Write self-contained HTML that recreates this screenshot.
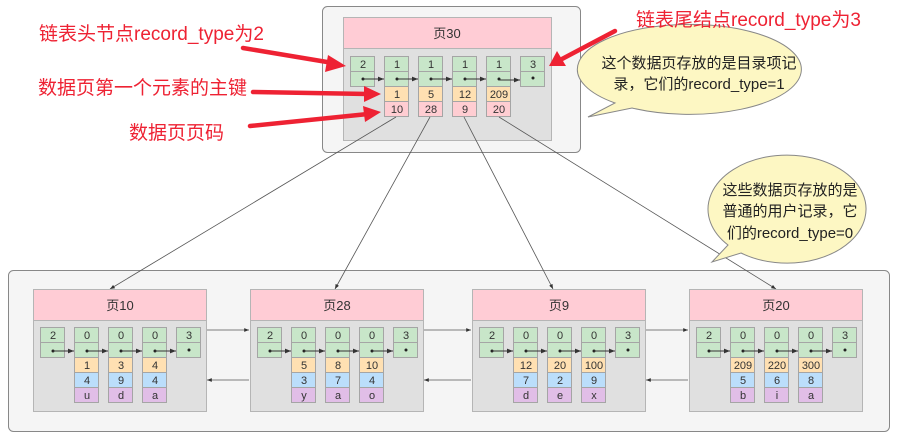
<!DOCTYPE html>
<html><head><meta charset="utf-8">
<style>
html,body{margin:0;padding:0;background:#fff;}
svg{display:block;}
text{font-family:"Liberation Sans","Noto Sans CJK SC",sans-serif;}
.c{font-size:11px;fill:#333;text-anchor:middle;}
.h{font-size:13px;fill:#333;text-anchor:middle;}
.r{font-size:19px;fill:#ee2233;}
.b{font-size:15px;fill:#222;text-anchor:middle;}
.g{fill:#c8e6c9;stroke:#a5a5a5;stroke-width:1;}
.y{fill:#ffe0b2;stroke:#a5a5a5;stroke-width:1;}
.p{fill:#ffcdd2;stroke:#a5a5a5;stroke-width:1;}
.bl{fill:#bbdefb;stroke:#a5a5a5;stroke-width:1;}
.pu{fill:#e1bee7;stroke:#a5a5a5;stroke-width:1;}
.ln{stroke:#333;stroke-width:1;fill:none;}
.gl{stroke:#555;stroke-width:0.8;fill:none;}
</style></head><body>
<svg width="901" height="440" viewBox="0 0 901 440" xmlns="http://www.w3.org/2000/svg">
<defs>
<marker id="a" viewBox="0 0 10 10" refX="10" refY="5" markerWidth="6" markerHeight="6" orient="auto"><path d="M0,1 L10,5 L0,9 z" fill="#333"/></marker>
</defs>
<rect width="901" height="440" fill="#fff"/>

<!-- top container -->
<rect x="322.5" y="6.5" width="258" height="146" rx="5" fill="#f5f5f5" stroke="#888"/>
<rect x="343.5" y="17.5" width="208" height="123" fill="#e0e0e0" stroke="#b5b5b5"/>
<rect x="343.5" y="17.5" width="208" height="31" fill="#ffccd5" stroke="#b5b5b5"/>
<text class="h" x="447" y="38">页30</text>

<g>
<rect class="g" x="350.5" y="56.5" width="24" height="15"/><rect class="g" x="350.5" y="71.5" width="24" height="15"/>
<rect class="g" x="384.5" y="56.5" width="24" height="15"/><rect class="g" x="384.5" y="71.5" width="24" height="15"/>
<rect class="g" x="418.5" y="56.5" width="24" height="15"/><rect class="g" x="418.5" y="71.5" width="24" height="15"/>
<rect class="g" x="452.5" y="56.5" width="24" height="15"/><rect class="g" x="452.5" y="71.5" width="24" height="15"/>
<rect class="g" x="486.5" y="56.5" width="24" height="15"/><rect class="g" x="486.5" y="71.5" width="24" height="15"/>
<rect class="g" x="520.5" y="56.5" width="24" height="15"/><rect class="g" x="520.5" y="71.5" width="24" height="15"/>
<rect class="y" x="384.5" y="86.5" width="24" height="15"/><rect class="p" x="384.5" y="101.5" width="24" height="15"/>
<rect class="y" x="418.5" y="86.5" width="24" height="15"/><rect class="p" x="418.5" y="101.5" width="24" height="15"/>
<rect class="y" x="452.5" y="86.5" width="24" height="15"/><rect class="p" x="452.5" y="101.5" width="24" height="15"/>
<rect class="y" x="486.5" y="86.5" width="24" height="15"/><rect class="p" x="486.5" y="101.5" width="24" height="15"/>
<text class="c" x="363" y="68">2</text><text class="c" x="397" y="68">1</text><text class="c" x="431" y="68">1</text><text class="c" x="465" y="68">1</text><text class="c" x="499" y="68">1</text><text class="c" x="533" y="68">3</text>
<text class="c" x="397" y="98">1</text><text class="c" x="431" y="98">5</text><text class="c" x="465" y="98">12</text><text class="c" x="499" y="98">209</text>
<text class="c" x="397" y="113">10</text><text class="c" x="431" y="113">28</text><text class="c" x="465" y="113">9</text><text class="c" x="499" y="113">20</text>
<circle cx="363" cy="79" r="1.5" fill="#222"/><circle cx="397" cy="79" r="1.5" fill="#222"/><circle cx="431" cy="79" r="1.5" fill="#222"/><circle cx="465" cy="79" r="1.5" fill="#222"/><circle cx="499" cy="79" r="1.5" fill="#222"/><circle cx="533" cy="78" r="1.5" fill="#222"/>
<line class="ln" x1="363" y1="79" x2="384" y2="79" marker-end="url(#a)"/>
<line class="ln" x1="397" y1="79" x2="418" y2="79" marker-end="url(#a)"/>
<line class="ln" x1="431" y1="79" x2="452" y2="79" marker-end="url(#a)"/>
<line class="ln" x1="465" y1="79" x2="486" y2="79" marker-end="url(#a)"/>
<line class="ln" x1="499" y1="80" x2="520" y2="80" marker-end="url(#a)"/>
</g>

<!-- bottom container -->
<rect x="8.5" y="270.5" width="881" height="161" rx="5" fill="#f5f5f5" stroke="#888"/>

<!-- connectors top to bottom -->
<line class="gl" x1="396" y1="117" x2="110" y2="289" marker-end="url(#a)"/>
<line class="gl" x1="430" y1="117" x2="335" y2="289" marker-end="url(#a)"/>
<line class="gl" x1="464" y1="117" x2="553" y2="289" marker-end="url(#a)"/>
<line class="gl" x1="499" y1="117" x2="776" y2="289" marker-end="url(#a)"/>

<!-- page arrows -->
<line class="gl" x1="207" y1="330" x2="249" y2="330" marker-end="url(#a)"/>
<line class="gl" x1="249" y1="380" x2="207" y2="380" marker-end="url(#a)"/>
<line class="gl" x1="424" y1="330" x2="471" y2="330" marker-end="url(#a)"/>
<line class="gl" x1="471" y1="380" x2="424" y2="380" marker-end="url(#a)"/>
<line class="gl" x1="646" y1="330" x2="688" y2="330" marker-end="url(#a)"/>
<line class="gl" x1="688" y1="380" x2="646" y2="380" marker-end="url(#a)"/>

<g transform="translate(33,0)">
<rect x="0.5" y="289.5" width="173" height="122" fill="#e0e0e0" stroke="#b5b5b5"/>
<rect x="0.5" y="289.5" width="173" height="31" fill="#ffccd5" stroke="#b5b5b5"/>
<text class="h" x="87" y="310">页10</text>
<rect class="g" x="7.5" y="327.5" width="24" height="15"/><rect class="g" x="7.5" y="342.5" width="24" height="15"/>
<rect class="g" x="41.5" y="327.5" width="24" height="15"/><rect class="g" x="41.5" y="342.5" width="24" height="15"/>
<rect class="g" x="75.5" y="327.5" width="24" height="15"/><rect class="g" x="75.5" y="342.5" width="24" height="15"/>
<rect class="g" x="109.5" y="327.5" width="24" height="15"/><rect class="g" x="109.5" y="342.5" width="24" height="15"/>
<rect class="g" x="143.5" y="327.5" width="24" height="15"/><rect class="g" x="143.5" y="342.5" width="24" height="15"/>
<rect class="y" x="41.5" y="357.5" width="24" height="15"/><rect class="bl" x="41.5" y="372.5" width="24" height="15"/><rect class="pu" x="41.5" y="387.5" width="24" height="15"/>
<rect class="y" x="75.5" y="357.5" width="24" height="15"/><rect class="bl" x="75.5" y="372.5" width="24" height="15"/><rect class="pu" x="75.5" y="387.5" width="24" height="15"/>
<rect class="y" x="109.5" y="357.5" width="24" height="15"/><rect class="bl" x="109.5" y="372.5" width="24" height="15"/><rect class="pu" x="109.5" y="387.5" width="24" height="15"/>
<text class="c" x="20" y="339">2</text><text class="c" x="54" y="339">0</text><text class="c" x="88" y="339">0</text><text class="c" x="122" y="339">0</text><text class="c" x="156" y="339">3</text>
<circle cx="20" cy="351" r="1.5" fill="#222"/><circle cx="54" cy="351" r="1.5" fill="#222"/><circle cx="88" cy="351" r="1.5" fill="#222"/><circle cx="122" cy="351" r="1.5" fill="#222"/><circle cx="156" cy="350" r="1.5" fill="#222"/>
<line class="ln" x1="20" y1="351" x2="41" y2="351" marker-end="url(#a)"/><line class="ln" x1="54" y1="351" x2="75" y2="351" marker-end="url(#a)"/><line class="ln" x1="88" y1="351" x2="109" y2="351" marker-end="url(#a)"/><line class="ln" x1="122" y1="351" x2="143" y2="351" marker-end="url(#a)"/>
<text class="c" x="54" y="369">1</text><text class="c" x="88" y="369">3</text><text class="c" x="122" y="369">4</text>
<text class="c" x="54" y="384">4</text><text class="c" x="88" y="384">9</text><text class="c" x="122" y="384">4</text>
<text class="c" x="54" y="399">u</text><text class="c" x="88" y="399">d</text><text class="c" x="122" y="399">a</text>
</g>

<g transform="translate(250,0)">
<rect x="0.5" y="289.5" width="173" height="122" fill="#e0e0e0" stroke="#b5b5b5"/>
<rect x="0.5" y="289.5" width="173" height="31" fill="#ffccd5" stroke="#b5b5b5"/>
<text class="h" x="87" y="310">页28</text>
<rect class="g" x="7.5" y="327.5" width="24" height="15"/><rect class="g" x="7.5" y="342.5" width="24" height="15"/>
<rect class="g" x="41.5" y="327.5" width="24" height="15"/><rect class="g" x="41.5" y="342.5" width="24" height="15"/>
<rect class="g" x="75.5" y="327.5" width="24" height="15"/><rect class="g" x="75.5" y="342.5" width="24" height="15"/>
<rect class="g" x="109.5" y="327.5" width="24" height="15"/><rect class="g" x="109.5" y="342.5" width="24" height="15"/>
<rect class="g" x="143.5" y="327.5" width="24" height="15"/><rect class="g" x="143.5" y="342.5" width="24" height="15"/>
<rect class="y" x="41.5" y="357.5" width="24" height="15"/><rect class="bl" x="41.5" y="372.5" width="24" height="15"/><rect class="pu" x="41.5" y="387.5" width="24" height="15"/>
<rect class="y" x="75.5" y="357.5" width="24" height="15"/><rect class="bl" x="75.5" y="372.5" width="24" height="15"/><rect class="pu" x="75.5" y="387.5" width="24" height="15"/>
<rect class="y" x="109.5" y="357.5" width="24" height="15"/><rect class="bl" x="109.5" y="372.5" width="24" height="15"/><rect class="pu" x="109.5" y="387.5" width="24" height="15"/>
<text class="c" x="20" y="339">2</text><text class="c" x="54" y="339">0</text><text class="c" x="88" y="339">0</text><text class="c" x="122" y="339">0</text><text class="c" x="156" y="339">3</text>
<circle cx="20" cy="351" r="1.5" fill="#222"/><circle cx="54" cy="351" r="1.5" fill="#222"/><circle cx="88" cy="351" r="1.5" fill="#222"/><circle cx="122" cy="351" r="1.5" fill="#222"/><circle cx="156" cy="350" r="1.5" fill="#222"/>
<line class="ln" x1="20" y1="351" x2="41" y2="351" marker-end="url(#a)"/><line class="ln" x1="54" y1="351" x2="75" y2="351" marker-end="url(#a)"/><line class="ln" x1="88" y1="351" x2="109" y2="351" marker-end="url(#a)"/><line class="ln" x1="122" y1="351" x2="143" y2="351" marker-end="url(#a)"/>
<text class="c" x="54" y="369">5</text><text class="c" x="88" y="369">8</text><text class="c" x="122" y="369">10</text>
<text class="c" x="54" y="384">3</text><text class="c" x="88" y="384">7</text><text class="c" x="122" y="384">4</text>
<text class="c" x="54" y="399">y</text><text class="c" x="88" y="399">a</text><text class="c" x="122" y="399">o</text>
</g>

<g transform="translate(472,0)">
<rect x="0.5" y="289.5" width="173" height="122" fill="#e0e0e0" stroke="#b5b5b5"/>
<rect x="0.5" y="289.5" width="173" height="31" fill="#ffccd5" stroke="#b5b5b5"/>
<text class="h" x="87" y="310">页9</text>
<rect class="g" x="7.5" y="327.5" width="24" height="15"/><rect class="g" x="7.5" y="342.5" width="24" height="15"/>
<rect class="g" x="41.5" y="327.5" width="24" height="15"/><rect class="g" x="41.5" y="342.5" width="24" height="15"/>
<rect class="g" x="75.5" y="327.5" width="24" height="15"/><rect class="g" x="75.5" y="342.5" width="24" height="15"/>
<rect class="g" x="109.5" y="327.5" width="24" height="15"/><rect class="g" x="109.5" y="342.5" width="24" height="15"/>
<rect class="g" x="143.5" y="327.5" width="24" height="15"/><rect class="g" x="143.5" y="342.5" width="24" height="15"/>
<rect class="y" x="41.5" y="357.5" width="24" height="15"/><rect class="bl" x="41.5" y="372.5" width="24" height="15"/><rect class="pu" x="41.5" y="387.5" width="24" height="15"/>
<rect class="y" x="75.5" y="357.5" width="24" height="15"/><rect class="bl" x="75.5" y="372.5" width="24" height="15"/><rect class="pu" x="75.5" y="387.5" width="24" height="15"/>
<rect class="y" x="109.5" y="357.5" width="24" height="15"/><rect class="bl" x="109.5" y="372.5" width="24" height="15"/><rect class="pu" x="109.5" y="387.5" width="24" height="15"/>
<text class="c" x="20" y="339">2</text><text class="c" x="54" y="339">0</text><text class="c" x="88" y="339">0</text><text class="c" x="122" y="339">0</text><text class="c" x="156" y="339">3</text>
<circle cx="20" cy="351" r="1.5" fill="#222"/><circle cx="54" cy="351" r="1.5" fill="#222"/><circle cx="88" cy="351" r="1.5" fill="#222"/><circle cx="122" cy="351" r="1.5" fill="#222"/><circle cx="156" cy="350" r="1.5" fill="#222"/>
<line class="ln" x1="20" y1="351" x2="41" y2="351" marker-end="url(#a)"/><line class="ln" x1="54" y1="351" x2="75" y2="351" marker-end="url(#a)"/><line class="ln" x1="88" y1="351" x2="109" y2="351" marker-end="url(#a)"/><line class="ln" x1="122" y1="351" x2="143" y2="351" marker-end="url(#a)"/>
<text class="c" x="54" y="369">12</text><text class="c" x="88" y="369">20</text><text class="c" x="122" y="369">100</text>
<text class="c" x="54" y="384">7</text><text class="c" x="88" y="384">2</text><text class="c" x="122" y="384">9</text>
<text class="c" x="54" y="399">d</text><text class="c" x="88" y="399">e</text><text class="c" x="122" y="399">x</text>
</g>

<g transform="translate(689,0)">
<rect x="0.5" y="289.5" width="173" height="122" fill="#e0e0e0" stroke="#b5b5b5"/>
<rect x="0.5" y="289.5" width="173" height="31" fill="#ffccd5" stroke="#b5b5b5"/>
<text class="h" x="87" y="310">页20</text>
<rect class="g" x="7.5" y="327.5" width="24" height="15"/><rect class="g" x="7.5" y="342.5" width="24" height="15"/>
<rect class="g" x="41.5" y="327.5" width="24" height="15"/><rect class="g" x="41.5" y="342.5" width="24" height="15"/>
<rect class="g" x="75.5" y="327.5" width="24" height="15"/><rect class="g" x="75.5" y="342.5" width="24" height="15"/>
<rect class="g" x="109.5" y="327.5" width="24" height="15"/><rect class="g" x="109.5" y="342.5" width="24" height="15"/>
<rect class="g" x="143.5" y="327.5" width="24" height="15"/><rect class="g" x="143.5" y="342.5" width="24" height="15"/>
<rect class="y" x="41.5" y="357.5" width="24" height="15"/><rect class="bl" x="41.5" y="372.5" width="24" height="15"/><rect class="pu" x="41.5" y="387.5" width="24" height="15"/>
<rect class="y" x="75.5" y="357.5" width="24" height="15"/><rect class="bl" x="75.5" y="372.5" width="24" height="15"/><rect class="pu" x="75.5" y="387.5" width="24" height="15"/>
<rect class="y" x="109.5" y="357.5" width="24" height="15"/><rect class="bl" x="109.5" y="372.5" width="24" height="15"/><rect class="pu" x="109.5" y="387.5" width="24" height="15"/>
<text class="c" x="20" y="339">2</text><text class="c" x="54" y="339">0</text><text class="c" x="88" y="339">0</text><text class="c" x="122" y="339">0</text><text class="c" x="156" y="339">3</text>
<circle cx="20" cy="351" r="1.5" fill="#222"/><circle cx="54" cy="351" r="1.5" fill="#222"/><circle cx="88" cy="351" r="1.5" fill="#222"/><circle cx="122" cy="351" r="1.5" fill="#222"/><circle cx="156" cy="350" r="1.5" fill="#222"/>
<line class="ln" x1="20" y1="351" x2="41" y2="351" marker-end="url(#a)"/><line class="ln" x1="54" y1="351" x2="75" y2="351" marker-end="url(#a)"/><line class="ln" x1="88" y1="351" x2="109" y2="351" marker-end="url(#a)"/><line class="ln" x1="122" y1="351" x2="143" y2="351" marker-end="url(#a)"/>
<text class="c" x="54" y="369">209</text><text class="c" x="88" y="369">220</text><text class="c" x="122" y="369">300</text>
<text class="c" x="54" y="384">5</text><text class="c" x="88" y="384">6</text><text class="c" x="122" y="384">8</text>
<text class="c" x="54" y="399">b</text><text class="c" x="88" y="399">i</text><text class="c" x="122" y="399">a</text>
</g>

<!-- callouts -->
<path d="M588,117 L615,103 A112,45 0 1 1 632,108 Z" fill="#fdf7c3" stroke="#888"/>
<text class="b" x="699" y="68">这个数据页存放的是目录项记</text>
<text class="b" x="699" y="89">录，它们的record_type=1</text>
<path d="M712,262 L728,245 A79,54 0 1 1 741,253 Z" fill="#fdf7c3" stroke="#888"/>
<text class="b" x="790" y="195">这些数据页存放的是</text>
<text class="b" x="790" y="216">普通的用户记录，它</text>
<text class="b" x="790" y="238">们的record_type=0</text>

<!-- red labels & arrows -->
<text class="r" x="39" y="40">链表头节点record_type为2</text>
<text class="r" x="38" y="94">数据页第一个元素的主键</text>
<text class="r" x="129" y="139">数据页页码</text>
<text class="r" x="636" y="26">链表尾结点record_type为3</text>
<g stroke="#ee2233" stroke-width="4.5" stroke-linecap="round" fill="none">
<line x1="243" y1="48" x2="333" y2="63"/>
<line x1="253" y1="92" x2="368" y2="94"/>
<line x1="250" y1="126" x2="368" y2="114"/>
<line x1="615" y1="31" x2="562" y2="59"/>
</g>
<g fill="#ee2233">
<path d="M346,66 L328,55 L325,72 Z"/>
<path d="M381,94 L364,86 L364,102 Z"/>
<path d="M381,112 L363,106 L365,122 Z"/>
<path d="M549,66 L557,51 L566,66 Z"/>
</g>
</svg>
</body></html>
